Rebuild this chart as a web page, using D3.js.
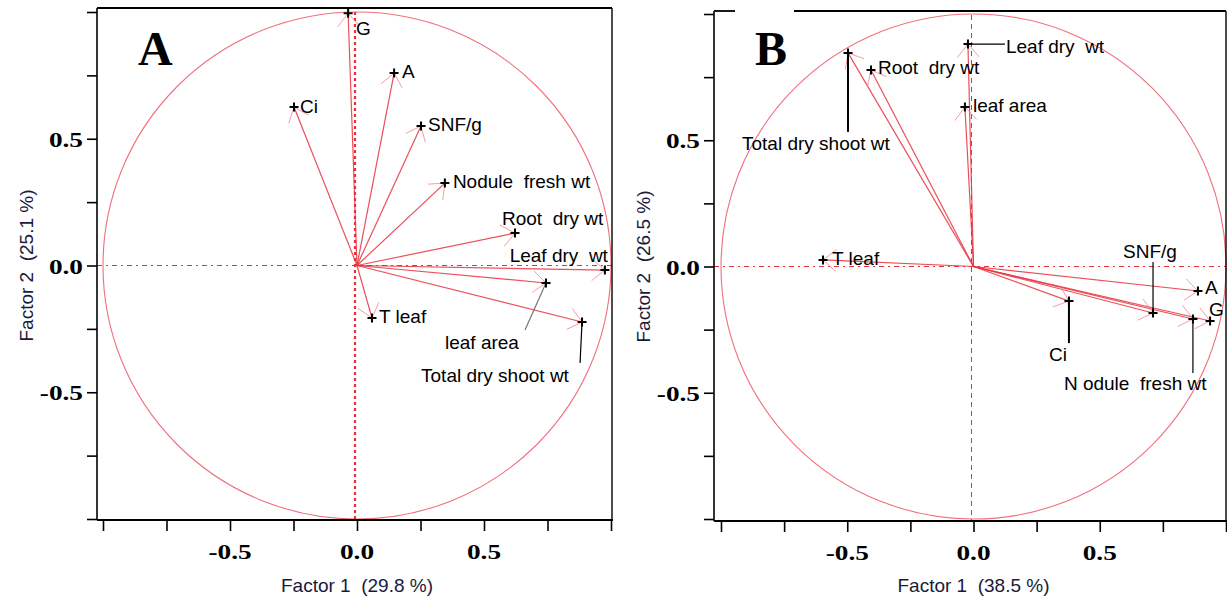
<!DOCTYPE html>
<html>
<head>
<meta charset="utf-8">
<script src="https://cdn.jsdelivr.net/npm/d3@7"></script>
<style>
  html, body { margin: 0; padding: 0; background: #fff; }
  svg text { white-space: pre; }
</style>
</head>
<body>
<svg id="chart" width="1227" height="600"></svg>
<script>
// ---------------- DATA ----------------
const variablesA = ["G", "Ci", "A", "SNF/g", "Nodule  fresh wt", "Root  dry wt", "Leaf dry  wt", "leaf area", "Total dry shoot wt", "T leaf"];
const factor1A   = [-0.035, -0.248, 0.146, 0.252, 0.346, 0.622, 0.976, 0.744, 0.886, 0.059];
const factor2A   = [0.995, 0.625, 0.759, 0.550, 0.325, 0.128, -0.018, -0.069, -0.223, -0.207];

const variablesB = ["Total dry shoot wt", "Root  dry wt", "Leaf dry  wt", "leaf area", "T leaf", "A", "G", "N odule  fresh wt", "SNF/g", "Ci"];
const factor1B   = [-0.497, -0.406, -0.022, -0.034, -0.596, 0.889, 0.937, 0.869, 0.711, 0.378];
const factor2B   = [0.846, 0.778, 0.881, 0.632, 0.026, -0.097, -0.216, -0.208, -0.184, -0.137];

const tickValues = [-1, -0.75, -0.5, -0.25, 0, 0.25, 0.5, 0.75, 1];
const tickLabelValues = [-0.5, 0, 0.5];
const tickLabelText = ["-0.5", "0.0", "0.5"];

const panelLetters = ["A", "B"];
const xTitles = ["Factor 1  (29.8 %)", "Factor 1  (38.5 %)"];
const yTitles = ["Factor 2  (25.1 %)", "Factor 2  (26.5 %)"];

// ---------------- LAYOUT (label offsets in px, relative to the point) ----------------
const labelLayoutA = [
  {dx: 8, dy: 22},
  {dx: 6, dy: 6},
  {dx: 8, dy: 5},
  {dx: 7, dy: 5},
  {dx: 8, dy: 5},
  {dx: -13, dy: -8},
  {dx: 3, dy: -8, anchor: "end"},
  {dx: -101, dy: 66, leader: [-21, 47], leaderColor: "#777"},
  {dx: -161, dy: 60, leader: [-2, 41], leaderColor: "#000"},
  {dx: 7, dy: 5}
];
const labelLayoutB = [
  {dx: -106, dy: 97, leader: [0, 79], leaderColor: "#000", leaderWidth: 2},
  {dx: 7, dy: 4},
  {dx: 38, dy: 9, leader: [37, 0], leaderColor: "#000"},
  {dx: 8, dy: 5},
  {dx: 9, dy: 5},
  {dx: 7, dy: 3},
  {dx: -1, dy: -5},
  {dx: -129, dy: 71, leader: [0, 54], leaderColor: "#000"},
  {dx: -30, dy: -55, leader: [0, -51], leaderColor: "#000"},
  {dx: -20, dy: 60, leader: [0, 42], leaderColor: "#000", leaderWidth: 2}
];

const panels = [
  {letter: panelLetters[0], vars: variablesA, f1: factor1A, f2: factor2A, layout: labelLayoutA,
   xr: [103, 611], yr: [519, 12], frame: {x0: 97, x1: 612, y0: 8, y1: 520}, topGap: null,
   letterPos: [138, 65], xTitle: xTitles[0], yTitle: yTitles[0], yTitleX: 33, vDotted: true},
  {letter: panelLetters[1], vars: variablesB, f1: factor1B, f2: factor2B, layout: labelLayoutB,
   xr: [721, 1226], yr: [519, 14], frame: {x0: 714, x1: 1226, y0: 11, y1: 521}, topGap: [735, 794],
   letterPos: [755, 65], xTitle: xTitles[1], yTitle: yTitles[1], yTitleX: 650, vDotted: false}
];

const svg = d3.select("#chart");
const red = "#e8303c";

panels.forEach(p => {
  const g = svg.append("g");
  const x = d3.scaleLinear().domain([-1, 1]).range(p.xr);
  const y = d3.scaleLinear().domain([-1, 1]).range(p.yr);
  const f = p.frame;

  // circle of correlations
  const rx = (x(1) - x(-1)) / 2, ry = (y(-1) - y(1)) / 2;
  g.append("ellipse").attr("cx", x(0)).attr("cy", y(0)).attr("rx", rx).attr("ry", ry)
    .attr("fill", "none").attr("stroke", "#f0707c").attr("stroke-width", 1.1);

  // reference lines through origin
  g.append("line").attr("x1", f.x0).attr("x2", f.x1).attr("y1", y(0)).attr("y2", y(0))
    .attr("stroke", red).attr("stroke-width", 1).attr("stroke-dasharray", "5,4,2,4");
  g.append("line").attr("x1", x(0) - 2).attr("x2", x(0) - 2).attr("y1", f.y0 + 4).attr("y2", f.y1)
    .attr("stroke", red)
    .attr("stroke-width", p.vDotted ? 2.2 : 1)
    .attr("stroke-dasharray", p.vDotted ? "3,3" : "5,4");

  // arrows
  p.vars.forEach((name, i) => {
    const px = x(p.f1[i]), py = y(p.f2[i]);
    const ox = x(0), oy = y(0);
    g.append("line").attr("x1", ox).attr("y1", oy).attr("x2", px).attr("y2", py)
      .attr("stroke", red).attr("stroke-width", 1.2).attr("stroke-opacity", 0.85);
    const ang = Math.atan2(py - oy, px - ox);
    [Math.PI * 0.78, -Math.PI * 0.78].forEach(a => {
      const len = 17;
      g.append("line").attr("x1", px).attr("y1", py)
        .attr("x2", px + len * Math.cos(ang + a)).attr("y2", py + len * Math.sin(ang + a))
        .attr("stroke", "#f07c88").attr("stroke-width", 1).attr("stroke-opacity", 0.75);
    });
  });

  // markers, leaders, labels
  p.vars.forEach((name, i) => {
    const px = x(p.f1[i]), py = y(p.f2[i]);
    const L = p.layout[i];
    if (L.leader) {
      g.append("line").attr("x1", px).attr("y1", py)
        .attr("x2", px + L.leader[0]).attr("y2", py + L.leader[1])
        .attr("stroke", L.leaderColor).attr("stroke-width", L.leaderWidth || 1.2);
    }
    g.append("path").attr("d", `M${px - 4.5},${py}H${px + 4.5}M${px},${py - 4.5}V${py + 4.5}`)
      .attr("stroke", "#000").attr("stroke-width", 2);
    g.append("text").attr("x", px + L.dx).attr("y", py + L.dy)
      .attr("text-anchor", L.anchor || "start")
      .attr("font-family", "Liberation Sans, Arial, sans-serif").attr("font-size", 19)
      .attr("fill", "#000").text(name);
  });

  // frame
  g.append("line").attr("x1", f.x0).attr("x2", f.x0).attr("y1", f.y0).attr("y2", f.y1)
    .attr("stroke", "#000").attr("stroke-width", 1.6);
  g.append("line").attr("x1", f.x0).attr("x2", f.x1 + 1).attr("y1", f.y1).attr("y2", f.y1)
    .attr("stroke", "#000").attr("stroke-width", 2.2);
  g.append("line").attr("x1", f.x1).attr("x2", f.x1).attr("y1", f.y0).attr("y2", f.y1)
    .attr("stroke", "#000").attr("stroke-width", 1.4);
  if (p.topGap) {
    g.append("line").attr("x1", f.x0).attr("x2", p.topGap[0]).attr("y1", f.y0).attr("y2", f.y0)
      .attr("stroke", "#000").attr("stroke-width", 1.8);
    g.append("line").attr("x1", p.topGap[1]).attr("x2", f.x1).attr("y1", f.y0).attr("y2", f.y0)
      .attr("stroke", "#000").attr("stroke-width", 1.8);
  } else {
    g.append("line").attr("x1", f.x0).attr("x2", f.x1).attr("y1", f.y0).attr("y2", f.y0)
      .attr("stroke", "#000").attr("stroke-width", 1.8);
  }

  // axes (ticks only, labels drawn separately)
  const xAxis = d3.axisBottom(x).tickValues(tickValues).tickSize(11).tickFormat("");
  const gx = g.append("g").attr("transform", `translate(0,${f.y1})`).call(xAxis);
  gx.select(".domain").remove();
  gx.selectAll(".tick line").attr("stroke-width", 1.6);

  const yAxis = d3.axisLeft(y).tickValues(tickValues).tickSize(10).tickFormat("");
  const gy = g.append("g").attr("transform", `translate(${f.x0},0)`).call(yAxis);
  gy.select(".domain").remove();
  gy.selectAll(".tick line").attr("stroke-width", 1.6);

  const tickFont = "Liberation Serif, Times New Roman, serif";
  tickLabelValues.forEach((v, k) => {
    const t = g.append("text").attr("x", x(v)).attr("y", f.y1 + 39)
      .attr("text-anchor", "middle").attr("font-family", tickFont).attr("font-weight", "bold")
      .attr("font-size", 22).attr("fill", "#000").text(tickLabelText[k]);
    const w = t.node().getComputedTextLength();
    t.attr("textLength", w * 1.24).attr("lengthAdjust", "spacingAndGlyphs");
    const ty = g.append("text").attr("x", f.x0 - 14).attr("y", y(v) + 8)
      .attr("text-anchor", "end").attr("font-family", tickFont).attr("font-weight", "bold")
      .attr("font-size", 22).attr("fill", "#000").text(tickLabelText[k]);
    const w2 = ty.node().getComputedTextLength();
    ty.attr("textLength", w2 * 1.24).attr("lengthAdjust", "spacingAndGlyphs");
  });

  // titles
  g.append("text").attr("x", x(0)).attr("y", 592).attr("text-anchor", "middle")
    .attr("font-family", "Liberation Sans, Arial, sans-serif").attr("font-size", 19)
    .attr("fill", "#1a1a3a").text(p.xTitle);
  g.append("text").attr("transform", `translate(${p.yTitleX},${y(0)}) rotate(-90)`)
    .attr("text-anchor", "middle")
    .attr("font-family", "Liberation Sans, Arial, sans-serif").attr("font-size", 19)
    .attr("fill", "#1a1a3a").text(p.yTitle);

  // panel letter
  g.append("text").attr("x", p.letterPos[0]).attr("y", p.letterPos[1])
    .attr("font-family", "Liberation Serif, Times New Roman, serif").attr("font-weight", "bold")
    .attr("font-size", 48).attr("fill", "#000").text(p.letter);
});
</script>
</body>
</html>
